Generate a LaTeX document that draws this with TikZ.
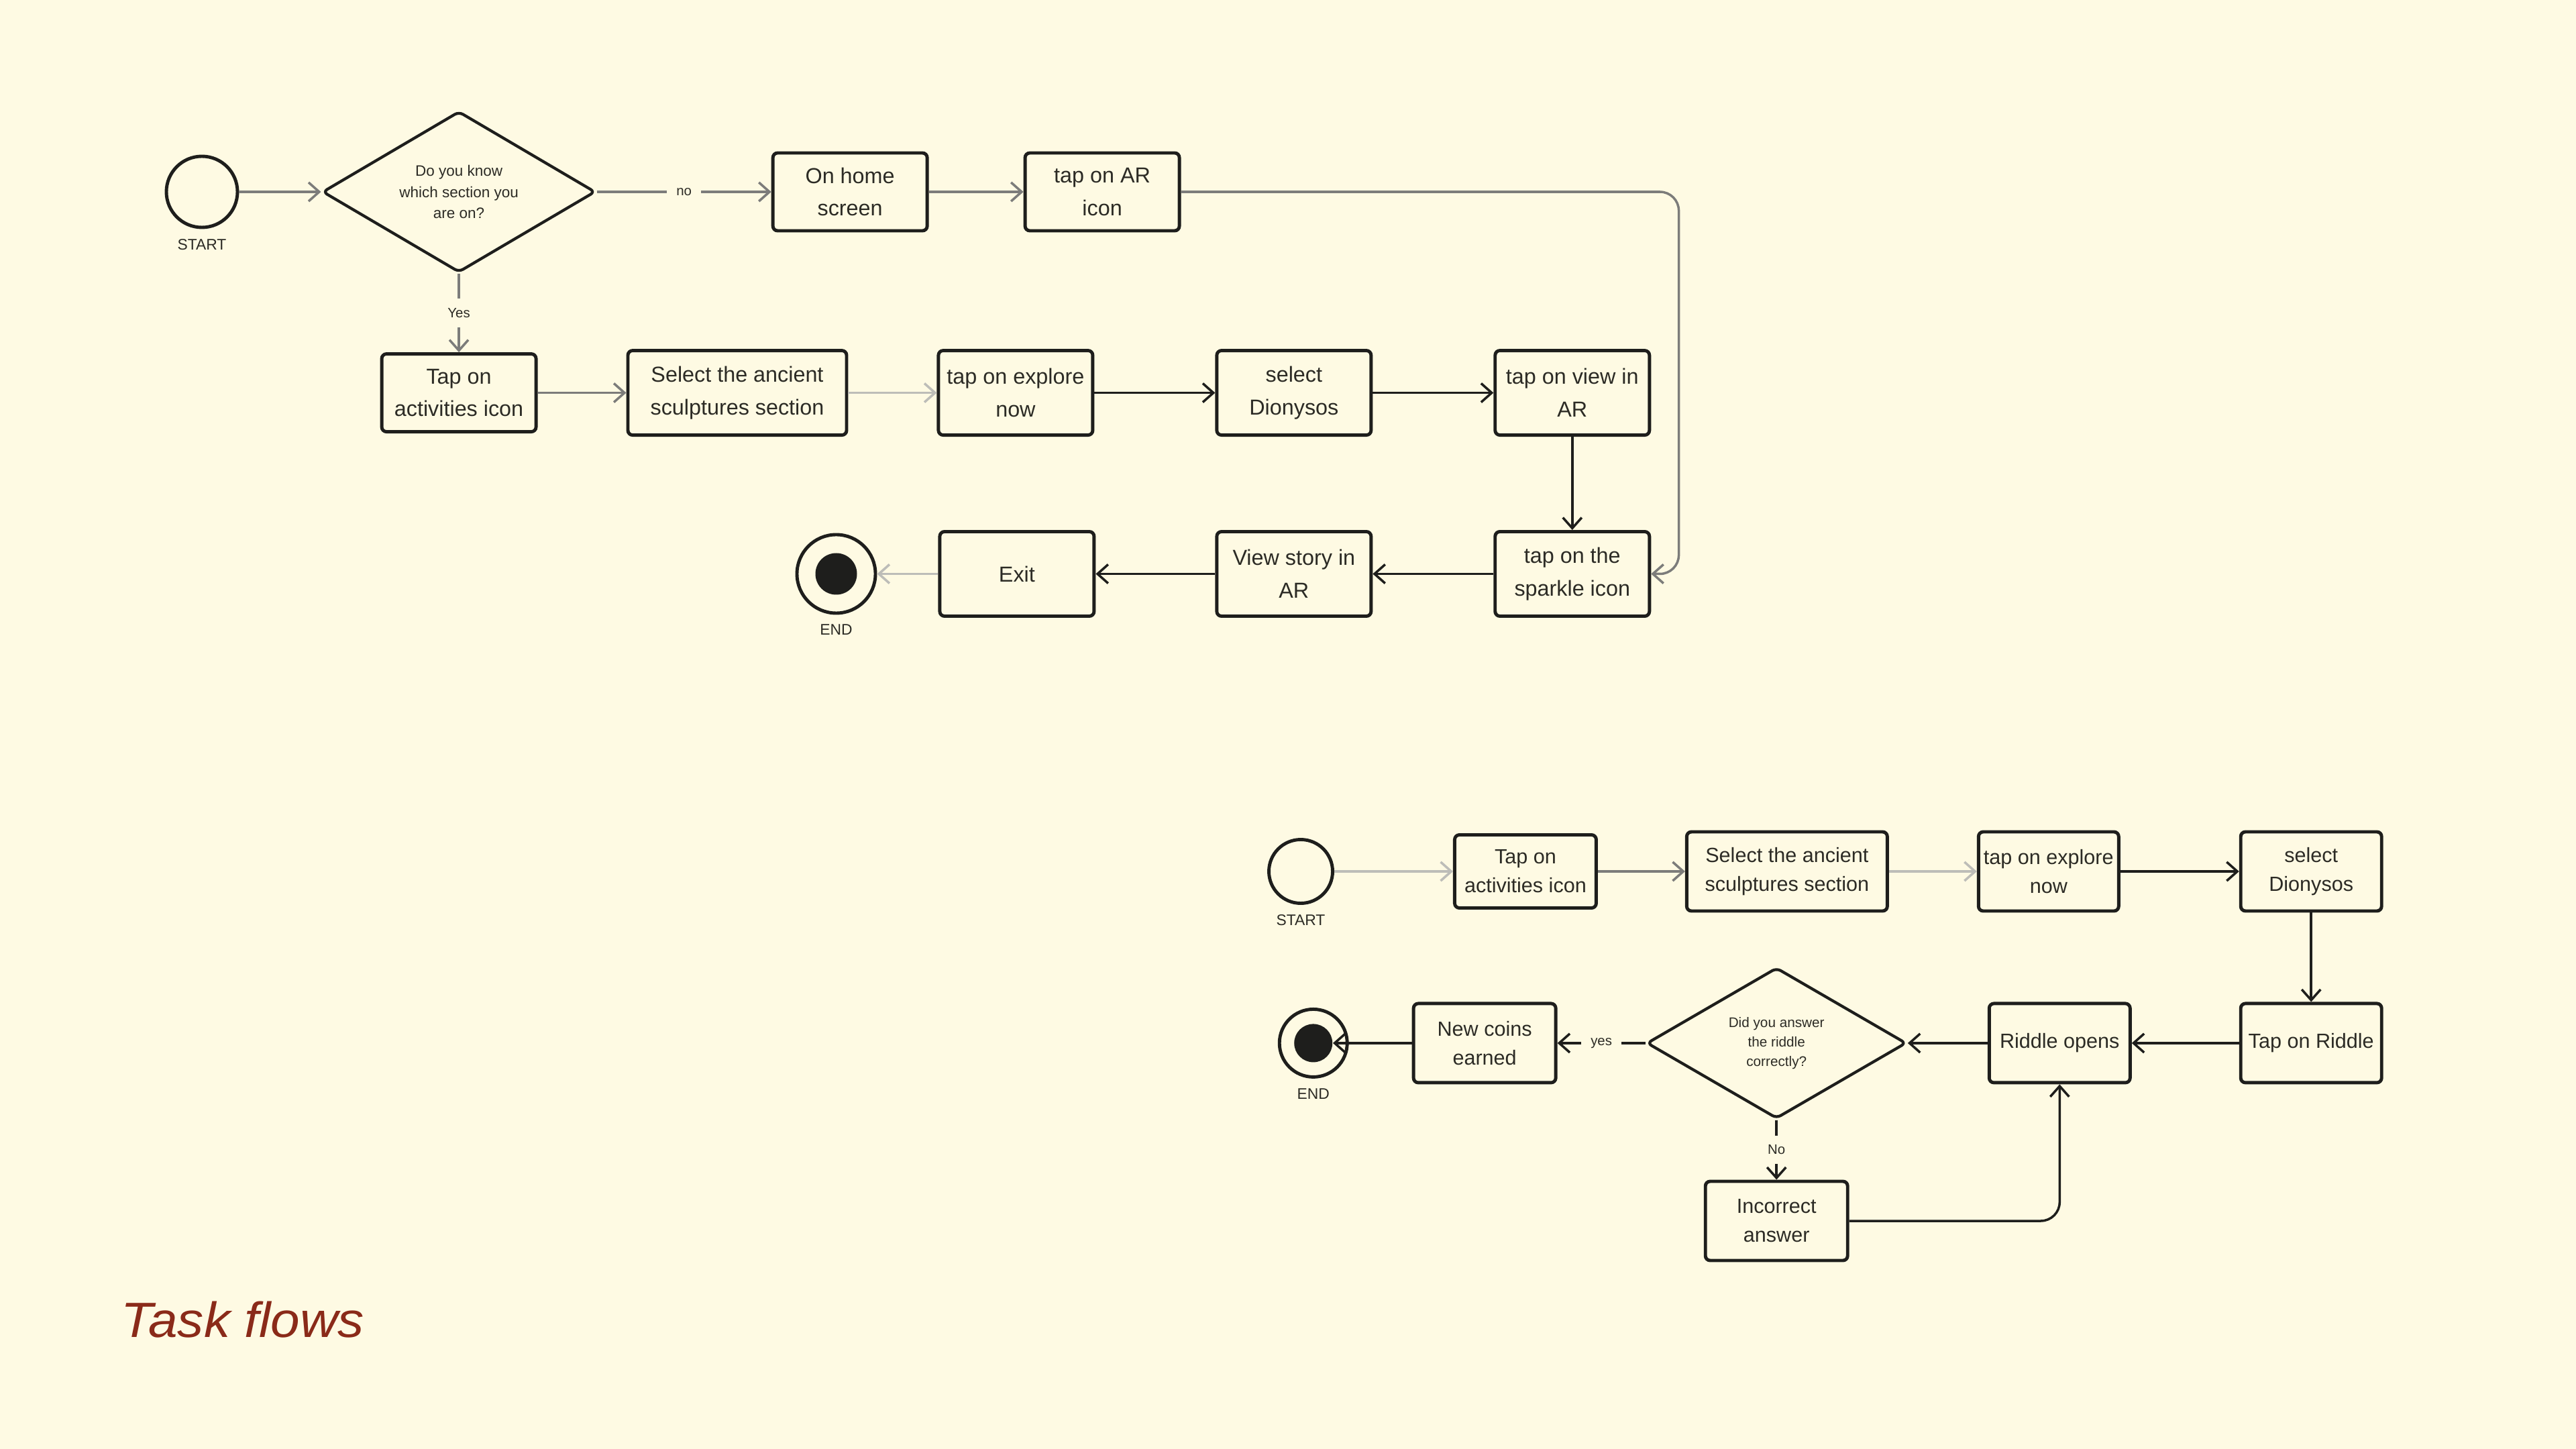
\documentclass[tikz,border=0pt]{standalone}
\usepackage{fontspec}
\setmainfont{Liberation Sans}
\newfontfamily\titlefont[FakeStretch=1.06]{Liberation Sans}
\usetikzlibrary{shapes.geometric, arrows.meta, positioning}

\definecolor{paper}{HTML}{FEFAE3}
\definecolor{ink}{HTML}{1E1E1C}
\definecolor{txt}{HTML}{2C2B25}
\definecolor{midgrey}{HTML}{7C7C7A}
\definecolor{lightgrey}{HTML}{BDBDB8}
\definecolor{titlered}{HTML}{8A2A19}

\begin{document}
\begin{tikzpicture}[
        node distance=1cm,
        % one step of a flow
        stepbox/.style={
            rectangle,
            draw=ink,
            line width=1.4pt,
            fill=paper,
            text=txt,
            minimum width=2.30cm,
            minimum height=1.26cm,
            align=center,
            rounded corners=2pt,
            inner sep=2pt,
            font=\fontsize{9.2}{13.9}\selectfont
        },
        smallbox/.style={
            stepbox,
            minimum width=2.10cm,
            minimum height=1.18cm,
            font=\fontsize{8.7}{12.2}\selectfont
        },
        question/.style={
            diamond, aspect=1.7,
            draw=ink,
            line width=1.2pt,
            fill=paper,
            text=txt,
            align=center,
            inner sep=0pt,
            rounded corners=2pt,
            font=\fontsize{6.4}{9}\selectfont
        },
        startdot/.style={circle, draw=ink, line width=1.4pt, fill=paper, inner sep=0pt},
        enddot/.style={circle, fill=ink, inner sep=0pt},
        caption/.style={text=txt, inner sep=0pt, font=\fontsize{6.5}{8}\selectfont},
        flowlbl/.style={fill=paper, text=txt, inner sep=4pt, font=\fontsize{5.8}{7}\selectfont},
        arrow/.style={
            -{Straight Barb[length=4.5pt,width=8pt]},
            line width=1pt,
            draw=ink
        },
        greyarrow/.style={arrow, draw=midgrey},
        palearrow/.style={arrow, draw=lightgrey}
    ]

    \fill [paper] (0,0) rectangle (38.4,-21.6);

    % Flow 1: view the story in AR
    \node (start1) [startdot, minimum size=1.06cm,
        label={[caption, label distance=0.14cm]below:START}] at (3.01,-2.86) {};
    \node (ask1) [question, minimum width=4.07cm, minimum height=2.40cm, right=1.22cm of start1]
        {Do you know\\which section you\\are on?};
    \node (home) [stepbox, minimum height=1.16cm, right=2.60cm of ask1] {On home\\screen};
    \node (arIcon) [stepbox, minimum height=1.16cm, right=1.41cm of home] {tap on AR\\icon};

    \node (tap1) [stepbox, minimum height=1.16cm, below=1.17cm of ask1] {Tap on\\activities icon};
    \node (sel1) [stepbox, minimum width=3.26cm, right=1.32cm of tap1] {Select the ancient\\sculptures section};
    \node (exp1) [stepbox, right=1.32cm of sel1] {tap on explore\\now};
    \node (dio1) [stepbox, right=1.80cm of exp1] {select\\Dionysos};
    \node (view1) [stepbox, right=1.80cm of dio1] {tap on view in\\AR};

    \node (spark) [stepbox, below=1.39cm of view1] {tap on the\\sparkle icon};
    \node (story) [stepbox, left=1.80cm of spark] {View story in\\AR};
    \node (exitBox) [stepbox, left=1.78cm of story] {Exit};
    \node (end1) [startdot, minimum size=1.17cm, left=0.91cm of exitBox,
        label={[caption, label distance=0.14cm]below:END}] {};
    \node (end1dot) [enddot, minimum size=0.62cm] at (end1) {};

    \draw [greyarrow] (start1) -- (ask1);
    \draw [greyarrow] (ask1) -- node [flowlbl] {no} (home);
    \draw [greyarrow] (home) -- (arIcon);
    \draw [greyarrow, rounded corners=8pt] (arIcon.east) -- ++(7.42,0) |- (spark.east);
    \draw [greyarrow] (ask1) -- node [flowlbl] {Yes} (tap1);
    \draw [greyarrow] (tap1) -- (sel1);
    \draw [palearrow] (sel1) -- (exp1);
    \draw [arrow] (exp1) -- (dio1);
    \draw [arrow] (dio1) -- (view1);
    \draw [arrow] (view1) -- (spark);
    \draw [arrow] (spark) -- (story);
    \draw [arrow] (story) -- (exitBox);
    \draw [palearrow] (exitBox) -- (end1);

    % Flow 2: answer the riddle
    \node (start2) [startdot, minimum size=0.95cm,
        label={[caption, label distance=0.14cm]below:START}] at (19.39,-12.99) {};
    \node (tap2) [smallbox, minimum width=2.11cm, minimum height=1.09cm, right=1.77cm of start2] {Tap on\\activities icon};
    \node (sel2) [smallbox, minimum width=2.99cm, right=1.30cm of tap2] {Select the ancient\\sculptures section};
    \node (exp2) [smallbox, minimum width=2.09cm, right=1.31cm of sel2] {tap on explore\\now};
    \node (dio2) [smallbox, right=1.77cm of exp2] {select\\Dionysos};

    \node (riddle) [smallbox, below=1.33cm of dio2] {Tap on Riddle};
    \node (ropen) [smallbox, left=1.60cm of riddle] {Riddle opens};
    \node (ask2) [question, minimum width=3.87cm, minimum height=2.25cm, left=1.19cm of ropen,
        font=\fontsize{5.9}{8.3}\selectfont] {Did you answer\\the riddle\\correctly?};
    \node (coins) [smallbox, minimum width=2.12cm, left=1.31cm of ask2] {New coins\\earned};
    \node (end2) [startdot, minimum size=1.01cm, left=0.94cm of coins,
        label={[caption, label distance=0.14cm]below:END}] {};
    \node (end2dot) [enddot, minimum size=0.57cm] at (end2) {};
    \node (incor) [smallbox, minimum width=2.12cm, below=0.89cm of ask2] {Incorrect\\answer};

    \draw [palearrow] (start2) -- (tap2);
    \draw [greyarrow] (tap2) -- (sel2);
    \draw [palearrow] (sel2) -- (exp2);
    \draw [arrow] (exp2) -- (dio2);
    \draw [arrow] (dio2) -- (riddle);
    \draw [arrow] (riddle) -- (ropen);
    \draw [arrow] (ropen) -- (ask2);
    \draw [arrow] (ask2) -- node [flowlbl] {yes} (coins);
    \draw [arrow] (coins) -- (end2dot);
    \draw [arrow] (ask2) -- node [flowlbl] {No} (incor);
    \draw [arrow, rounded corners=8pt] (incor.east) -| (ropen.south);

    % Title
    \node (title) [anchor=base west, inner sep=0pt, text=titlered,
        font=\titlefont\fontsize{21}{25}\selectfont\itshape] at (1.80,-19.93) {Task flows};

\end{tikzpicture}
\end{document}
